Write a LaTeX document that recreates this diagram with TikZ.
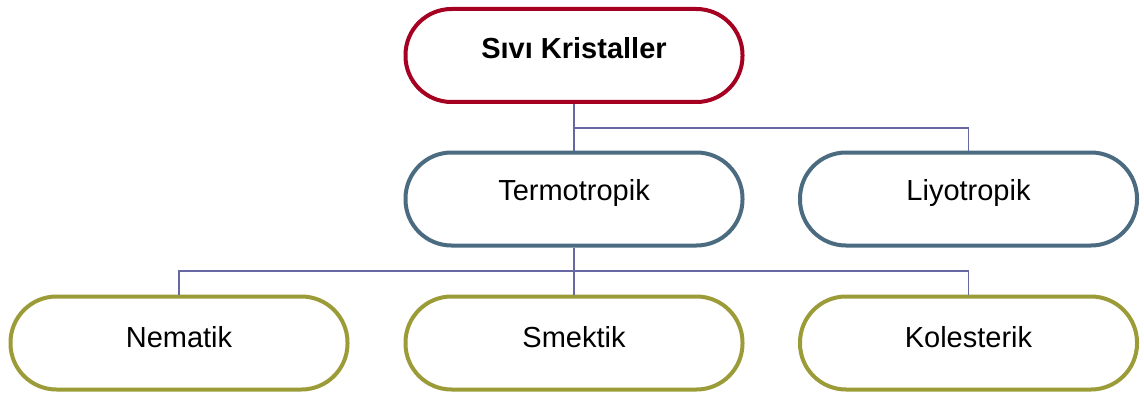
\documentclass[tikz,border=0pt]{standalone}
\usepackage{fontspec}
\setmainfont{Liberation Sans}
\definecolor{rootred}{HTML}{A50021}
\definecolor{midblue}{HTML}{4B6B80}
\definecolor{leafolive}{HTML}{9B9B38}
\definecolor{linkviolet}{HTML}{6767A3}
\tikzset{
  pill/.style={draw, line width=4pt, fill=white, rounded corners=46pt,
    minimum width=337pt, minimum height=93pt, inner sep=0pt},
  rootbox/.style={pill, draw=rootred},
  midbox/.style={pill, draw=midblue},
  leafbox/.style={pill, draw=leafolive},
  link/.style={draw=linkviolet, line width=1.4pt},
  caption/.style={font=\fontsize{29}{34}\selectfont}
}
\begin{document}
\begin{tikzpicture}[x=1pt, y=-1pt]
  \useasboundingbox (0,0) rectangle (1144,396);
  % root
  \node[rootbox, label={[caption, font=\fontsize{29}{34}\selectfont\bfseries, yshift=7pt]center:Sıvı Kristaller}] (root) at (574,55.5) {};
  % second level
  \node[midbox, label={[caption, yshift=6pt]center:Termotropik}] (termo) at (574,199) {};
  \node[midbox, label={[caption, yshift=6pt]center:Liyotropik}] (liyo) at (968.5,199) {};
  % third level
  \node[leafbox, label={[caption, yshift=6pt]center:Nematik}] (nem) at (179,343) {};
  \node[leafbox, label={[caption, yshift=6pt]center:Smektik}] (smek) at (574,343) {};
  \node[leafbox, label={[caption, yshift=6pt]center:Kolesterik}] (kol) at (968.5,343) {};
  % connectors
  \coordinate (j1) at (574,128);
  \coordinate (j2) at (574,271);
  \draw[link] (root.south) -- (termo.north);
  \draw[link] (j1) -| (liyo.north);
  \draw[link] (termo.south) -- (smek.north);
  \draw[link] (j2) -| (nem.north);
  \draw[link] (j2) -| (kol.north);
\end{tikzpicture}
\end{document}
